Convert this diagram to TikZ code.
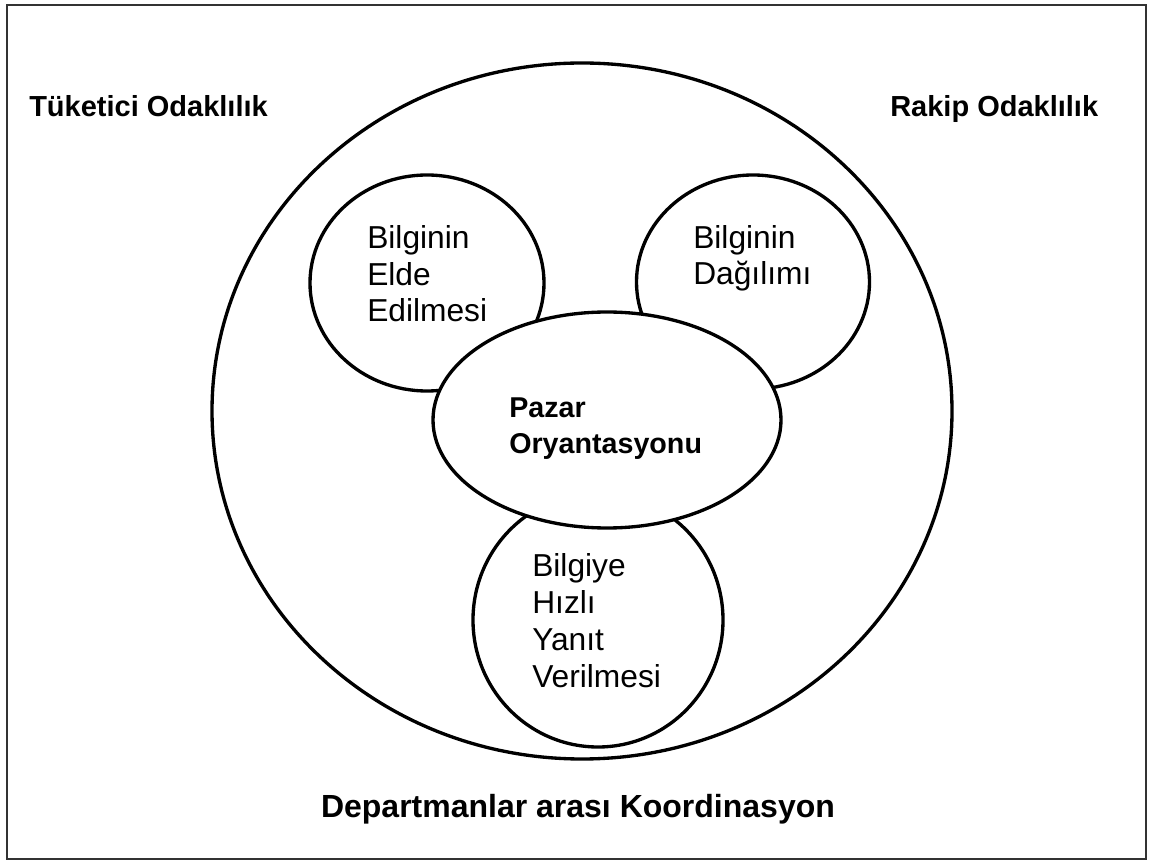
\documentclass[tikz,border=0pt]{standalone}
\usepackage{fontspec}
\setmainfont{Liberation Sans}
\usetikzlibrary{shapes.geometric}
\begin{document}
\begin{tikzpicture}[x=0.75pt,y=-0.75pt,
  ring/.style={draw=black, ellipse, line width=2.5pt, fill=white, inner sep=0pt, outer sep=0pt},
  corner/.style={anchor=base west, inner sep=0pt, font=\fontsize{21.75}{26}\selectfont\bfseries},
  inner/.style={anchor=base west, align=left, inner sep=0pt, font=\fontsize{23.8}{27.6}\selectfont},
  core/.style={anchor=base west, align=left, inner sep=0pt, font=\fontsize{21.5}{27}\selectfont\bfseries},
  footer/.style={anchor=base, inner sep=0pt, font=\fontsize{24}{28}\selectfont\bfseries}]
\useasboundingbox (0,0) rectangle (1150,862);
% outer frame
\draw[line width=1.1pt, draw=black!80] (7,5) rectangle (1146,859);

% big surrounding ring
\node[ring, minimum width=555pt, minimum height=522pt] (outer) at (582,411) {};

% three satellite rings
\node[ring, minimum width=175.5pt, minimum height=162pt] (acq) at (427,283) {};
\node[ring, minimum width=174.75pt, minimum height=160.5pt] (dist) at (753,282) {};
\node[ring, minimum width=187.5pt, minimum height=190.5pt] (resp) at (598,620) {};

% central ring on top
\node[ring, minimum width=261pt, minimum height=162pt] (core) at (607,420) {};

% labels (multi-line blocks are placed by the baseline of their last line)
\node[corner] (tuk) at (29,117) {Tüketici Odaklılık};
\node[corner] (rak) at (890,117) {Rakip Odaklılık};
\node[inner] (acqtxt) at (367,322) {Bilginin\\Elde\\Edilmesi};
\node[inner] (disttxt) at (693,285) {Bilginin\\Dağılımı};
\node[core] (coretxt) at (509,454) {Pazar\\Oryantasyonu};
\node[inner] (resptxt) at (532,687) {Bilgiye\\Hızlı\\Yanıt\\Verilmesi};
\node[footer] (koord) at (578,817) {Departmanlar arası Koordinasyon};
\end{tikzpicture}
\end{document}
